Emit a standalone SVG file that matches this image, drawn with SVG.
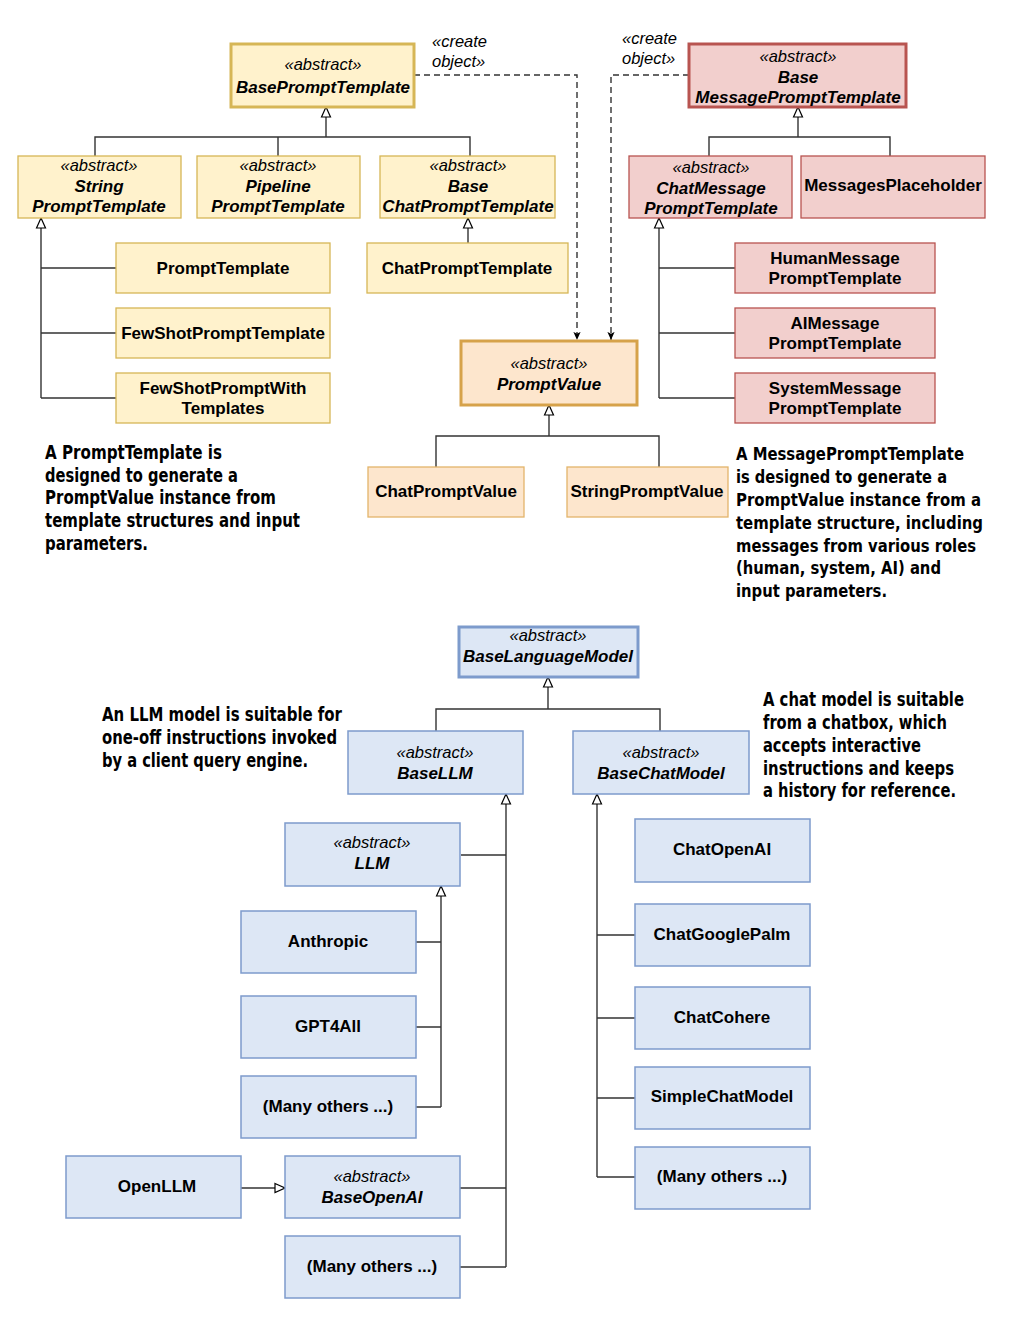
<svg xmlns="http://www.w3.org/2000/svg" width="1026" height="1330" viewBox="0 0 1026 1330">
<style>
.y{fill:#fff2cc;stroke:#d6b656;stroke-width:1.3}
.o{fill:#fde6cd;stroke:#e3b46a;stroke-width:1.3}
.r{fill:#f2cfcd;stroke:#b85450;stroke-width:1.3}
.b{fill:#dde7f5;stroke:#7d9bcc;stroke-width:1.5}
.thick{stroke-width:3}
.st{font-family:"Liberation Sans",Arial,sans-serif;font-size:16.5px;font-style:italic;text-anchor:middle;fill:#000}
.bi{font-family:"Liberation Sans",Arial,sans-serif;font-size:17px;font-style:italic;font-weight:bold;text-anchor:middle;fill:#000}
.t{font-family:"Liberation Sans",Arial,sans-serif;font-size:17px;font-weight:bold;text-anchor:middle;fill:#000}
.lbl{font-family:"Liberation Sans",Arial,sans-serif;font-size:16.5px;font-style:italic;fill:#000}
.note{font-family:"DejaVu Sans Condensed","Liberation Sans",sans-serif;font-size:20px;font-weight:bold;fill:#000}
.note2{font-family:"DejaVu Sans Condensed","Liberation Sans",sans-serif;font-size:18.5px;font-weight:bold;fill:#000}
.ln{fill:none;stroke:#333;stroke-width:1.4}
.dash{fill:none;stroke:#333;stroke-width:1.4;stroke-dasharray:6,4}
</style>
<defs>
<marker id="tri" viewBox="0 0 12 12" refX="11" refY="6" markerWidth="12" markerHeight="12" markerUnits="userSpaceOnUse" orient="auto">
<path d="M1,1.5 L11,6 L1,10.5 z" fill="#fff" stroke="#000" stroke-width="1.2"/>
</marker>
<marker id="arr" viewBox="0 0 10 10" refX="9" refY="5" markerWidth="9" markerHeight="9" markerUnits="userSpaceOnUse" orient="auto">
<path d="M0,1 L9,5 L0,9 L2,5 z" fill="#000"/>
</marker>
</defs>

<g id="connectors">
<path class="ln" d="M326 137 V107" marker-end="url(#tri)"/>
<path class="ln" d="M95 156 V137 H470 V156 M278 137 V156"/>
<path class="ln" d="M41 398 V218" marker-end="url(#tri)"/>
<path class="ln" d="M41 268 H116 M41 333 H116 M41 398 H116"/>
<path class="ln" d="M468 243 V218" marker-end="url(#tri)"/>
<path class="dash" d="M414 75 H577 V340" marker-end="url(#arr)"/>
<path class="dash" d="M689 75 H611 V340" marker-end="url(#arr)"/>
<path class="ln" d="M549 436 V405" marker-end="url(#tri)"/>
<path class="ln" d="M436 467 V436 H659 V467"/>
<path class="ln" d="M798 137 V107" marker-end="url(#tri)"/>
<path class="ln" d="M709 156 V137 H890 V156"/>
<path class="ln" d="M659 398 V218" marker-end="url(#tri)"/>
<path class="ln" d="M659 268 H735 M659 333 H735 M659 398 H735"/>
<path class="ln" d="M548 709 V677" marker-end="url(#tri)"/>
<path class="ln" d="M436 731 V709 H660 V731"/>
<path class="ln" d="M506 1267 V794" marker-end="url(#tri)"/>
<path class="ln" d="M461 855 H506 M460 1188 H506 M460 1267 H506"/>
<path class="ln" d="M441 1107 V886" marker-end="url(#tri)"/>
<path class="ln" d="M416 942 H441 M416 1027 H441 M416 1107 H441"/>
<path class="ln" d="M241 1188 H285" marker-end="url(#tri)"/>
<path class="ln" d="M597 1177 V794" marker-end="url(#tri)"/>
<path class="ln" d="M597 935 H635 M597 1018 H635 M597 1098 H635 M597 1177 H635"/>
</g>

<g id="create-labels">
<text class="lbl" x="432" y="47">«create</text>
<text class="lbl" x="432" y="67">object»</text>
<text class="lbl" x="622" y="44">«create</text>
<text class="lbl" x="622" y="64">object»</text>
</g>

<g id="BasePromptTemplate"><rect class="y thick" x="231" y="44" width="183" height="63"/><text class="st" x="323" y="70">«abstract»</text><text class="bi" x="323" y="93">BasePromptTemplate</text></g>
<g id="StringPromptTemplate"><rect class="y" x="18" y="156" width="163" height="62"/><text class="st" x="99" y="171">«abstract»</text><text class="bi" x="99" y="192">String</text><text class="bi" x="99" y="212">PromptTemplate</text></g>
<g id="PipelinePromptTemplate"><rect class="y" x="197" y="156" width="163" height="62"/><text class="st" x="278" y="171">«abstract»</text><text class="bi" x="278" y="192">Pipeline</text><text class="bi" x="278" y="212">PromptTemplate</text></g>
<g id="BaseChatPromptTemplate"><rect class="y" x="380" y="156" width="175" height="62"/><text class="st" x="468" y="171">«abstract»</text><text class="bi" x="468" y="192">Base</text><text class="bi" x="468" y="212">ChatPromptTemplate</text></g>
<g id="PromptTemplate"><rect class="y" x="116" y="243" width="214" height="50"/><text class="t" x="223" y="274">PromptTemplate</text></g>
<g id="FewShotPromptTemplate"><rect class="y" x="116" y="308" width="214" height="50"/><text class="t" x="223" y="339">FewShotPromptTemplate</text></g>
<g id="FewShotPromptWithTemplates"><rect class="y" x="116" y="373" width="214" height="50"/><text class="t" x="223" y="394">FewShotPromptWith</text><text class="t" x="223" y="414">Templates</text></g>
<g id="ChatPromptTemplate"><rect class="y" x="367" y="243" width="201" height="50"/><text class="t" x="467" y="274">ChatPromptTemplate</text></g>

<g id="PromptValue"><rect class="o thick" x="461" y="341" width="176" height="64" style="stroke:#d6a24a"/><text class="st" x="549" y="369">«abstract»</text><text class="bi" x="549" y="390">PromptValue</text></g>
<g id="ChatPromptValue"><rect class="o" x="368" y="467" width="156" height="50"/><text class="t" x="446" y="497">ChatPromptValue</text></g>
<g id="StringPromptValue"><rect class="o" x="567" y="467" width="161" height="50"/><text class="t" x="647" y="497">StringPromptValue</text></g>

<g id="BaseMessagePromptTemplate"><rect class="r thick" x="689" y="44" width="217" height="63"/><text class="st" x="798" y="62">«abstract»</text><text class="bi" x="798" y="83">Base</text><text class="bi" x="798" y="103">MessagePromptTemplate</text></g>
<g id="ChatMessagePromptTemplate"><rect class="r" x="629" y="156" width="163" height="62"/><text class="st" x="711" y="173">«abstract»</text><text class="bi" x="711" y="194">ChatMessage</text><text class="bi" x="711" y="214">PromptTemplate</text></g>
<g id="MessagesPlaceholder"><rect class="r" x="801" y="156" width="184" height="62"/><text class="t" x="893" y="191">MessagesPlaceholder</text></g>
<g id="HumanMessagePromptTemplate"><rect class="r" x="735" y="243" width="200" height="50"/><text class="t" x="835" y="264">HumanMessage</text><text class="t" x="835" y="284">PromptTemplate</text></g>
<g id="AIMessagePromptTemplate"><rect class="r" x="735" y="308" width="200" height="50"/><text class="t" x="835" y="329">AIMessage</text><text class="t" x="835" y="349">PromptTemplate</text></g>
<g id="SystemMessagePromptTemplate"><rect class="r" x="735" y="373" width="200" height="50"/><text class="t" x="835" y="394">SystemMessage</text><text class="t" x="835" y="414">PromptTemplate</text></g>

<g id="note-prompttemplate">
<text class="note" x="45" y="459" textLength="177" lengthAdjust="spacingAndGlyphs">A PromptTemplate is</text>
<text class="note" x="45" y="482" textLength="193" lengthAdjust="spacingAndGlyphs">designed to generate a</text>
<text class="note" x="45" y="504" textLength="231" lengthAdjust="spacingAndGlyphs">PromptValue instance from</text>
<text class="note" x="45" y="527" textLength="255" lengthAdjust="spacingAndGlyphs">template structures and input</text>
<text class="note" x="45" y="550" textLength="103" lengthAdjust="spacingAndGlyphs">parameters.</text>
</g>
<g id="note-messageprompttemplate">
<text class="note2" x="736" y="460" textLength="228" lengthAdjust="spacingAndGlyphs">A MessagePromptTemplate</text>
<text class="note2" x="736" y="483" textLength="211" lengthAdjust="spacingAndGlyphs">is designed to generate a</text>
<text class="note2" x="736" y="506" textLength="245" lengthAdjust="spacingAndGlyphs">PromptValue instance from a</text>
<text class="note2" x="736" y="529" textLength="247" lengthAdjust="spacingAndGlyphs">template structure, including</text>
<text class="note2" x="736" y="552" textLength="240" lengthAdjust="spacingAndGlyphs">messages from various roles</text>
<text class="note2" x="736" y="574" textLength="205" lengthAdjust="spacingAndGlyphs">(human, system, AI) and</text>
<text class="note2" x="736" y="597" textLength="151" lengthAdjust="spacingAndGlyphs">input parameters.</text>
</g>

<g id="BaseLanguageModel"><rect class="b thick" x="459" y="627" width="179" height="50"/><text class="st" x="548" y="641">«abstract»</text><text class="bi" x="548" y="662">BaseLanguageModel</text></g>
<g id="BaseLLM"><rect class="b" x="348" y="731" width="175" height="63"/><text class="st" x="435" y="758">«abstract»</text><text class="bi" x="435" y="779">BaseLLM</text></g>
<g id="BaseChatModel"><rect class="b" x="573" y="731" width="176" height="63"/><text class="st" x="661" y="758">«abstract»</text><text class="bi" x="661" y="779">BaseChatModel</text></g>
<g id="LLM"><rect class="b" x="285" y="823" width="175" height="63"/><text class="st" x="372" y="848">«abstract»</text><text class="bi" x="372" y="869">LLM</text></g>
<g id="Anthropic"><rect class="b" x="241" y="911" width="175" height="62"/><text class="t" x="328" y="947">Anthropic</text></g>
<g id="GPT4All"><rect class="b" x="241" y="996" width="175" height="62"/><text class="t" x="328" y="1032">GPT4All</text></g>
<g id="ManyOthersLLM"><rect class="b" x="241" y="1076" width="175" height="62"/><text class="t" x="328" y="1112">(Many others ...)</text></g>
<g id="OpenLLM"><rect class="b" x="66" y="1156" width="175" height="62"/><text class="t" x="157" y="1192">OpenLLM</text></g>
<g id="BaseOpenAI"><rect class="b" x="285" y="1156" width="175" height="62"/><text class="st" x="372" y="1182">«abstract»</text><text class="bi" x="372" y="1203">BaseOpenAI</text></g>
<g id="ManyOthersBaseLLM"><rect class="b" x="285" y="1236" width="175" height="62"/><text class="t" x="372" y="1272">(Many others ...)</text></g>
<g id="ChatOpenAI"><rect class="b" x="635" y="819" width="175" height="63"/><text class="t" x="722" y="855">ChatOpenAI</text></g>
<g id="ChatGooglePalm"><rect class="b" x="635" y="904" width="175" height="62"/><text class="t" x="722" y="940">ChatGooglePalm</text></g>
<g id="ChatCohere"><rect class="b" x="635" y="987" width="175" height="62"/><text class="t" x="722" y="1023">ChatCohere</text></g>
<g id="SimpleChatModel"><rect class="b" x="635" y="1067" width="175" height="62"/><text class="t" x="722" y="1102">SimpleChatModel</text></g>
<g id="ManyOthersChat"><rect class="b" x="635" y="1147" width="175" height="62"/><text class="t" x="722" y="1182">(Many others ...)</text></g>

<g id="note-llm">
<text class="note" x="102" y="721" textLength="240" lengthAdjust="spacingAndGlyphs">An LLM model is suitable for</text>
<text class="note" x="102" y="744" textLength="235" lengthAdjust="spacingAndGlyphs">one-off instructions invoked</text>
<text class="note" x="102" y="767" textLength="206" lengthAdjust="spacingAndGlyphs">by a client query engine.</text>
</g>
<g id="note-chat">
<text class="note" x="763" y="706" textLength="201" lengthAdjust="spacingAndGlyphs">A chat model is suitable</text>
<text class="note" x="763" y="729" textLength="184" lengthAdjust="spacingAndGlyphs">from a chatbox, which</text>
<text class="note" x="763" y="752" textLength="158" lengthAdjust="spacingAndGlyphs">accepts interactive</text>
<text class="note" x="763" y="775" textLength="191" lengthAdjust="spacingAndGlyphs">instructions and keeps</text>
<text class="note" x="763" y="797" textLength="193" lengthAdjust="spacingAndGlyphs">a history for reference.</text>
</g>
</svg>
